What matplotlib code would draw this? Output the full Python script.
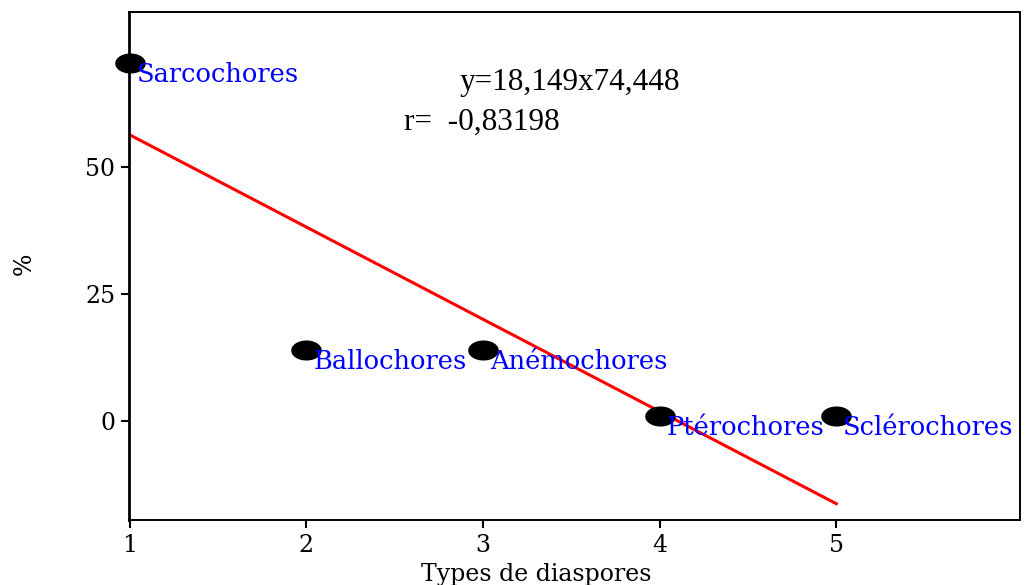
import numpy as np
import matplotlib.pyplot as plt
from matplotlib.path import Path

# data
types = [1, 2, 3, 4, 5]
pourcent = [70.5, 14, 14, 1, 1]
noms = ["Sarcochores", "Ballochores", "Anémochores", "Ptérochores", "Sclérochores"]
pente = -18.149
ordonnee = 74.448
eq_txt = "y=18,149x74,448"
r_txt = "r=  -0,83198"

# flattened ellipse marker
t = np.linspace(0, 2 * np.pi, 60)
ellipse = Path(np.column_stack([np.cos(t), 0.64 * np.sin(t)]), closed=True)

fig = plt.figure(figsize=(10.32, 5.85), dpi=100)
ax = fig.add_axes([129 / 1032, 1 - 520 / 585, 891 / 1032, 508 / 585])

xl = np.array([types[0], types[-1]])
ax.plot(xl, pente * xl + ordonnee, color="#ff0000", lw=2.2, zorder=2)
ax.plot(types, pourcent, ls="none", marker=ellipse, ms=21, color="black",
        zorder=3, clip_on=False)

for x, y, n in zip(types, pourcent, noms):
    ax.annotate(n, (x, y), xytext=(5, -14), textcoords="offset points",
                va="baseline", ha="left", color="#0000ff",
                family="DejaVu Serif", fontsize=18.5, zorder=4, annotation_clip=False)

ax.text(0.3715, 0.8465, eq_txt, transform=ax.transAxes, family="Liberation Serif",
        fontsize=22.5, va="baseline")
ax.text(0.3086, 0.7677, r_txt, transform=ax.transAxes, family="Liberation Serif",
        fontsize=22.5, va="baseline")

ax.set_xlim(0.995, 6.04)
ax.set_ylim(-19.5, 80.5)
ax.set_xticks(types)
ax.set_yticks([0, 25, 50])
ax.tick_params(direction="out", length=6, width=1.5, labelsize=17, pad=4)
for lab in ax.get_xticklabels() + ax.get_yticklabels():
    lab.set_family("DejaVu Serif")
for s in ax.spines.values():
    s.set_linewidth(1.4)
ax.spines["left"].set_linewidth(2)

ax.set_xlabel("Types de diaspores", family="DejaVu Serif", fontsize=17, labelpad=0)
ax.xaxis.set_label_coords(0.457, -0.085)
ax.set_ylabel("%", family="DejaVu Serif", fontsize=17)
ax.yaxis.set_label_coords(-0.105, 0.505)

fig.savefig("out.png", dpi=100)
